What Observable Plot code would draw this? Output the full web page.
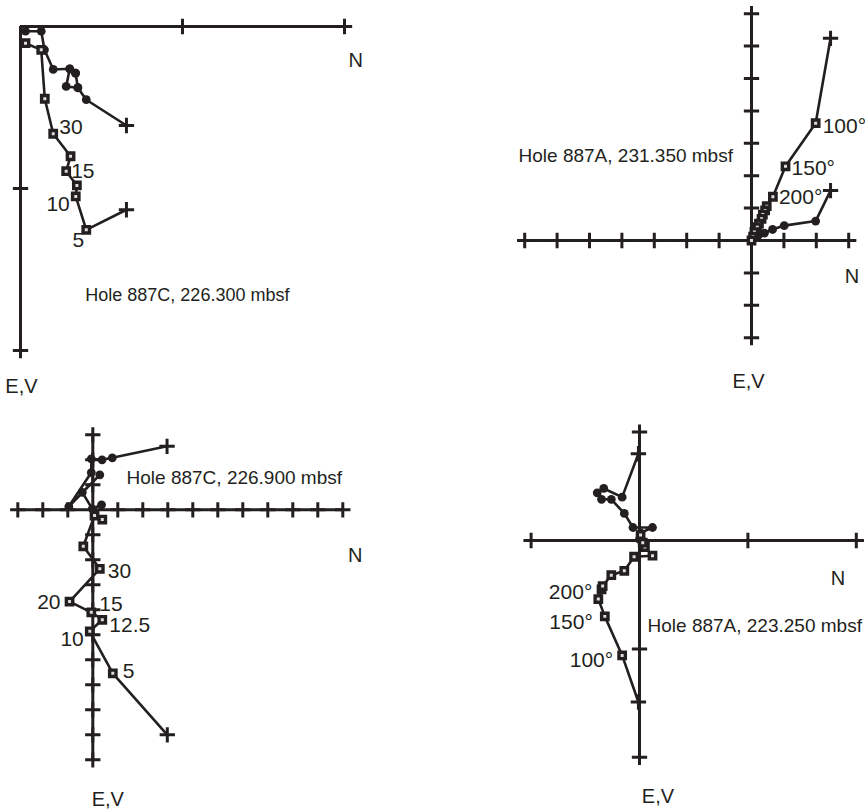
<!DOCTYPE html>
<html>
<head>
<meta charset="utf-8">
<script src="https://cdn.jsdelivr.net/npm/d3@7"></script>
<script src="https://cdn.jsdelivr.net/npm/@observablehq/plot@0.6"></script>
<style>
  html, body { margin: 0; padding: 0; background: #fff; }
  #chart { position: relative; width: 865px; height: 812px; background: #fff; }
  #chart svg { position: absolute; left: 0; top: 0; }
</style>
</head>
<body>
<div id="chart"></div>
<script>
// ---------- DATA (orthogonal vector components, in axis-tick units; first point = NRM) ----------
// Panel A: Hole 887C, 226.300 mbsf
const a_caption = "Hole 887C, 226.300 mbsf";
const a_horizontal = [[0.654,0.611],[0.406,0.452],[0.354,0.378],[0.340,0.288],[0.304,0.261],[0.282,0.370],[0.354,0.378],[0.340,0.288],[0.304,0.261],[0.202,0.265],[0.148,0.144],[0.128,0.029],[0.031,0.029]];
const a_vertical = [[0.654,1.131],[0.406,1.255],[0.341,1.049],[0.348,0.981],[0.282,0.893],[0.309,0.801],[0.202,0.662],[0.150,0.446],[0.128,0.144],[0.031,0.103]];
const a_stepLabels = ["5","10","15","30"];
const a_stepIndex = [1,2,4,6];
const a_ticksN = [1,2];
const a_ticksV = [1,2];

// Panel B: Hole 887A, 231.350 mbsf
const b_caption = "Hole 887A, 231.350 mbsf";
const b_horizontal = [[2.44,-1.54],[1.98,-0.60],[1.01,-0.46],[0.65,-0.34],[0.40,-0.23],[0.20,-0.15],[0.06,-0.06],[0,0]];
const b_vertical = [[2.44,-6.24],[1.98,-3.62],[1.05,-2.29],[0.66,-1.35],[0.47,-1.06],[0.42,-0.93],[0.35,-0.80],[0.31,-0.67],[0.23,-0.52],[0.18,-0.41],[0.09,-0.26],[0.05,-0.12],[0,0]];
const b_stepLabels = ["100°","150°","200°"];
const b_stepIndex = [1,2,3];
const b_ticksN = [-7,-6,-5,-4,-3,-2,-1,1,2,3];
const b_ticksV = [-7,-6,-5,-4,-3,-2,-1,1,2,3];

// Panel C: Hole 887C, 226.900 mbsf
const c_caption = "Hole 887C, 226.900 mbsf";
const c_horizontal = [[2.97,-2.54],[0.78,-2.08],[0.37,-2.00],[-0.06,-2.04],[-0.06,-1.49],[-0.96,-0.13],[0.28,-1.40],[-0.42,-0.70],[-0.02,-0.04],[0.35,-0.20]];
const c_vertical = [[2.98,9.00],[0.80,6.54],[-0.12,4.86],[0.38,4.40],[-0.06,4.10],[-0.93,3.67],[0.28,2.36],[-0.38,1.46],[0.07,0.23],[0.38,0.39]];
const c_stepLabels = ["5","10","12.5","15","20","30"];
const c_stepIndex = [1,2,3,4,5,6];
const c_ticksN = [-3,-2,-1,1,2,3,4,5,6,7,8,9,10];
const c_ticksV = [-3,-2,-1,1,2,3,4,5,6,7,8,9,10];

// Panel D: Hole 887A, 223.250 mbsf
const d_caption = "Hole 887A, 223.250 mbsf";
const d_horizontal = [[-0.01,-0.80],[-0.16,-0.40],[-0.33,-0.48],[-0.39,-0.44],[-0.35,-0.38],[-0.26,-0.38],[-0.14,-0.25],[-0.06,-0.12],[0.12,-0.12],[0.01,-0.07],[0.00,-0.01]];
const d_vertical = [[-0.01,1.49],[-0.16,1.06],[-0.32,0.70],[-0.38,0.54],[-0.35,0.45],[-0.34,0.42],[-0.26,0.32],[-0.14,0.28],[-0.05,0.15],[0.12,0.14],[0.05,0.06],[0.03,0.02],[0.01,-0.05]];
const d_stepLabels = ["100°","150°","200°"];
const d_stepIndex = [1,2,3];
const d_ticksN = [-1,1,2];
const d_ticksV = [-1,1,2];

const axisNames = { h: "N", v: "E,V" };

// ---------- LAYOUT (pixel placement of each diagram, label offsets) ----------
const INK = "#231f20";
const FONT = "'Liberation Sans', Arial, Helvetica, sans-serif";
const W = 865, H = 812;
const PLUS_R = 5;

const panels = [
  { ox: 20, oy: 26, u: 162, spanN: [0,2], spanV: [0,2], horizontal: a_horizontal, vertical: a_vertical,
    ticksN: a_ticksN, ticksV: a_ticksV, caption: a_caption, captionAt: [0.40,1.66], captionSize: 18,
    nAt: [2.07,0.21], evAt: [0.006,2.22],
    labels: a_stepLabels, labelIdx: a_stepIndex,
    labelOff: [[-8,10,"middle"],[-6,8,"end"],[5,0,"start"],[6,-6,"start"]] },
  { ox: 751, oy: 240, u: 32.4, spanN: [-7,3], spanV: [-7,3], horizontal: b_horizontal, vertical: b_vertical,
    ticksN: b_ticksN, ticksV: b_ticksV, caption: b_caption, captionAt: [-7.19,-2.62], captionSize: 19,
    nAt: [3.10,1.10], evAt: [-0.09,4.35],
    labels: b_stepLabels, labelIdx: b_stepIndex,
    labelOff: [[7,3,"start"],[6,2,"start"],[6,1,"start"]] },
  { ox: 92.3, oy: 509.3, u: 25, spanN: [-3,10], spanV: [-3,10], horizontal: c_horizontal, vertical: c_vertical,
    ticksN: c_ticksN, ticksV: c_ticksV, caption: c_caption, captionAt: [1.35,-1.29], captionSize: 19,
    nAt: [10.5,1.83], evAt: [0.60,11.6],
    labels: c_stepLabels, labelIdx: c_stepIndex,
    labelOff: [[10,-2,"start"],[-6,8,"end"],[7,5,"start"],[8,-8,"start"],[-9,1,"end"],[8,2,"start"]] },
  { ox: 639, oy: 540, u: 108.4, spanN: [-1,2], spanV: [-1,2], horizontal: d_horizontal, vertical: d_vertical,
    ticksN: d_ticksN, ticksV: d_ticksV, caption: d_caption, captionAt: [0.074,0.79], captionSize: 19,
    nAt: [1.83,0.35], evAt: [0.17,2.36],
    labels: d_stepLabels, labelIdx: d_stepIndex,
    labelOff: [[-9,5,"end"],[-12,6,"end"],[-6,-7,"end"]] }
];

const N = d => d[0], V = d => d[1];

function diagram(p) {
  const marks = [
    // axes through origin
    Plot.ruleY([{y: 0, x1: p.spanN[0], x2: p.spanN[1]}], {y: "y", x1: "x1", x2: "x2", stroke: INK, strokeWidth: 3}),
    Plot.ruleX([{x: 0, y1: p.spanV[0], y2: p.spanV[1]}], {x: "x", y1: "y1", y2: "y2", stroke: INK, strokeWidth: 3}),
    // cross ticks
    Plot.dot(p.ticksN, {x: d => d, y: () => 0, symbol: "plus", r: PLUS_R, stroke: INK, strokeWidth: 3}),
    Plot.dot(p.ticksV, {x: () => 0, y: d => d, symbol: "plus", r: PLUS_R, stroke: INK, strokeWidth: 3}),
    // horizontal projection (filled circles)
    Plot.line(p.horizontal, {x: N, y: V, stroke: INK, strokeWidth: 2.6}),
    Plot.dot(p.horizontal.slice(1), {x: N, y: V, r: 4.4, fill: INK}),
    Plot.dot(p.horizontal.slice(0,1), {x: N, y: V, symbol: "plus", r: PLUS_R, stroke: INK, strokeWidth: 3}),
    // vertical projection (open squares)
    Plot.line(p.vertical, {x: N, y: V, stroke: INK, strokeWidth: 2.6}),
    Plot.dot(p.vertical.slice(1), {x: N, y: V, symbol: "square", r: 3.6, fill: "#ddd", stroke: INK, strokeWidth: 3.4}),
    Plot.dot(p.vertical.slice(0,1), {x: N, y: V, symbol: "plus", r: PLUS_R, stroke: INK, strokeWidth: 3}),
    // caption
    Plot.text([p.caption], {x: () => p.captionAt[0], y: () => p.captionAt[1], text: d => d, textAnchor: "start", fontSize: p.captionSize, fill: INK}),
    // axis names
    Plot.text([axisNames.h], {x: () => p.nAt[0], y: () => p.nAt[1], text: d => d, fontSize: 20, fill: INK}),
    Plot.text([axisNames.v], {x: () => p.evAt[0], y: () => p.evAt[1], text: d => d, fontSize: 20, fill: INK})
  ];
  p.labels.forEach((t, i) => {
    const pt = p.vertical[p.labelIdx[i]];
    const [dx, dy, anchor] = p.labelOff[i];
    marks.push(Plot.text([t], {x: () => pt[0], y: () => pt[1], text: d => d, dx, dy, textAnchor: anchor, fontSize: 21, fill: INK}));
  });
  return Plot.plot({
    width: W, height: H,
    marginTop: 0, marginRight: 0, marginBottom: 0, marginLeft: 0,
    x: {domain: [0, 1], range: [p.ox, p.ox + p.u], axis: null},
    y: {domain: [0, 1], range: [p.oy, p.oy + p.u], axis: null},
    style: {background: "transparent", fontFamily: FONT, overflow: "visible"},
    marks
  });
}

const host = document.getElementById("chart");
panels.forEach(p => host.appendChild(diagram(p)));
</script>
</body>
</html>
